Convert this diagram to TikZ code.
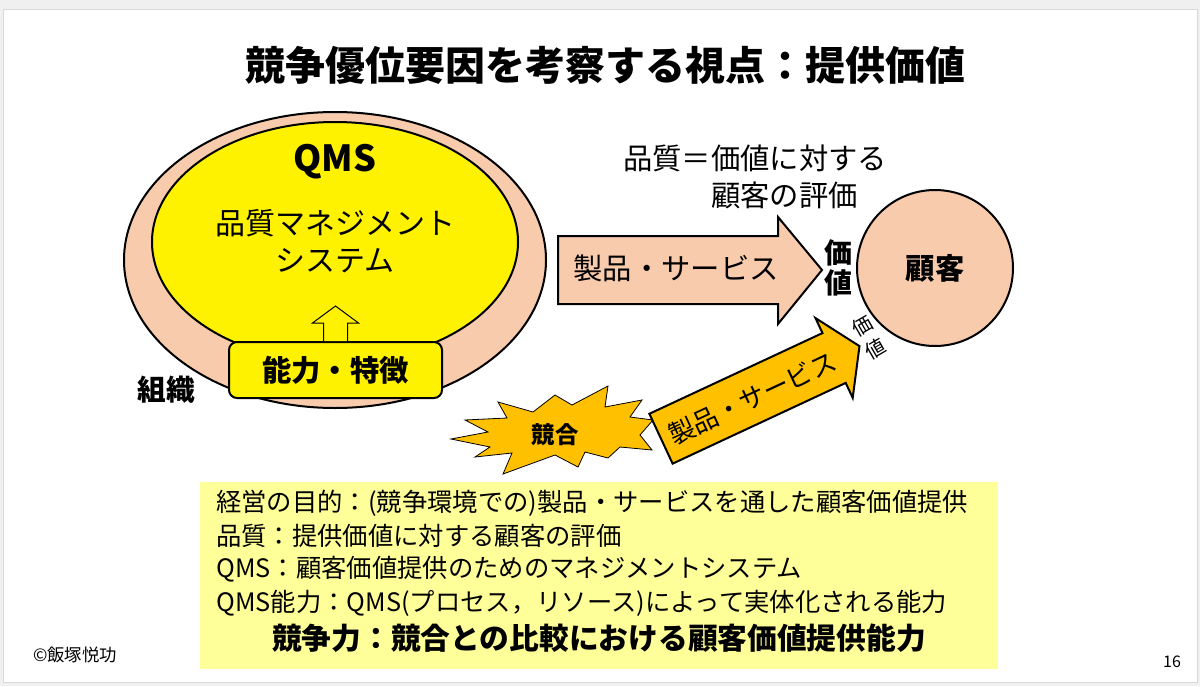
\documentclass[tikz,border=0pt]{standalone}
\usepackage{fontspec}
\setmainfont{Noto Sans CJK JP}
\usepackage{tikz}
\usepackage{color}
\definecolor{peach}{RGB}{248,203,173}
\definecolor{amber}{RGB}{255,192,0}
\definecolor{paleyellow}{RGB}{255,255,153}
\definecolor{slidegray}{RGB}{240,240,240}

\begin{document}
\begin{tikzpicture}[x=0.75pt,y=-0.75pt]
    % Define styles for the shapes and texts
    \tikzstyle{outline} = [draw=black, line width=1.5pt]
    \tikzstyle{txt} = [inner sep=0pt, text=black]
    \tikzstyle{abox} = [rectangle, rounded corners=6pt, outline, fill=yellow, minimum width=159.75pt, minimum height=42pt, text centered, font=\bfseries\fontsize{22pt}{26pt}\selectfont]
    \tikzstyle{circ} = [circle, outline, fill=peach, minimum size=117pt, text centered, font=\bfseries\fontsize{22pt}{26pt}\selectfont]
    \useasboundingbox (0,0) rectangle (1200,686);

    % Draw the slide
    \fill[slidegray] (0,0) rectangle (1200,686);
    \draw[fill=white, draw=black!15] (3,9) rectangle (1197,682);

    % Draw the title
    \node[txt, font=\bfseries\fontsize{30pt}{36pt}\selectfont] (title) at (605,65) {競争優位要因を考察する視点：提供価値};

    % Draw the organisation and the QMS
    \draw[outline, fill=peach] (335,260) ellipse [x radius=211, y radius=148];
    \draw[outline, fill=yellow] (335,242) ellipse [x radius=183, y radius=120];
    \node[txt, font=\bfseries\fontsize{27pt}{32pt}\selectfont] (qms) at (335,162) {QMS};
    \node[txt, align=center, font=\fontsize{22.5pt}{27.75pt}\selectfont] (qmsname) at (335,241) {品質マネジメント\\システム};

    % Draw the box and the hollow arrow up into the QMS
    \node[abox] (ability) at (335.5,370) {能力・特徴};
    \draw[line width=0.75pt, fill=yellow] (ability.north) ++(-12,0) -- ++(0,-18) -- ++(-11,0) -- ++(23,-17) -- ++(23,17) -- ++(-11,0) -- ++(0,18);
    \node[txt, fill=white, inner sep=2pt, font=\bfseries\fontsize{21.5pt}{26pt}\selectfont] (org) at (166,390) {組織};

    % Draw the arrow to the customer
    \draw[outline, fill=peach] (558,236) -- (778,236) -- (778,217) -- (822,270) -- (778,324) -- (778,304) -- (558,304) -- cycle;
    \node[txt, font=\fontsize{22pt}{26pt}\selectfont] (product) at (676,268) {製品・サービス};
    \node[txt, align=center, font=\bfseries\fontsize{21pt}{23pt}\selectfont] (value) at (838,268) {価\\値};
    \node[txt, anchor=west, align=left, font=\fontsize{22pt}{27.75pt}\selectfont] (quality) at (623,176.5) {品質＝価値に対する\\\hspace*{3em}顧客の評価};

    % Draw the customer
    \node[circ] (customer) at (935,268) {顧客};

    % Draw the rival
    \draw[fill=amber, draw=black, line width=0.6pt] (608,386) -- (605,407) -- (642,400) -- (630,417) -- (653,420) -- (640,435) -- (652,450) -- (620,447) -- (608,458) -- (585,452) -- (578,467) -- (555,455) -- (503,474) -- (512,453) -- (475,457) -- (490,447) -- (451,439) -- (488,432) -- (465,420) -- (507,418) -- (498,402) -- (533,412) -- (555,395) -- (572,405) -- cycle;
    \node[txt, font=\bfseries\fontsize{17.5pt}{21pt}\selectfont] (rival) at (555,435) {競合};

    % Draw the arrow of the rival
    \begin{scope}[shift={(661,438.7)}, rotate=25]
        \draw[outline, fill=amber] (0,-27.5) -- (191,-27.5) -- (191,-44) -- (219,0) -- (191,44) -- (191,27.5) -- (0,27.5) -- cycle;
        \node[txt, rotate=25, font=\fontsize{19.5pt}{23pt}\selectfont] (rivalproduct) at (100,2) {製品・サービス};
    \end{scope}
    \node[txt, rotate=30, align=center, font=\fontsize{15pt}{20pt}\selectfont] (rivalvalue) at (869,337) {価\\値};

    % Draw the notes
    \fill[paleyellow] (200,482) rectangle (998,669);
    \foreach \t [count=\i] in {{経営の目的：(競争環境での)製品・サービスを通した顧客価値提供}, {品質：提供価値に対する顧客の評価}, {QMS：顧客価値提供のためのマネジメントシステム}, {QMS能力：QMS(プロセス，リソース)によって実体化される能力}} {
        \node[txt, anchor=west, font=\fontsize{19pt}{23pt}\selectfont] (note\i) at (216,{469.7+33.3*\i}) {\t};
    }
    \node[txt, font=\bfseries\fontsize{22.3pt}{26pt}\selectfont] (summary) at (599,638) {競争力：競合との比較における顧客価値提供能力};

    % Draw the footer
    \node[txt, font=\fontsize{13pt}{16pt}\selectfont] (author) at (75,655) {©飯塚悦功};
    \node[txt, font=\fontsize{12pt}{14pt}\selectfont] (page) at (1172,662) {16};
\end{tikzpicture}
\end{document}
